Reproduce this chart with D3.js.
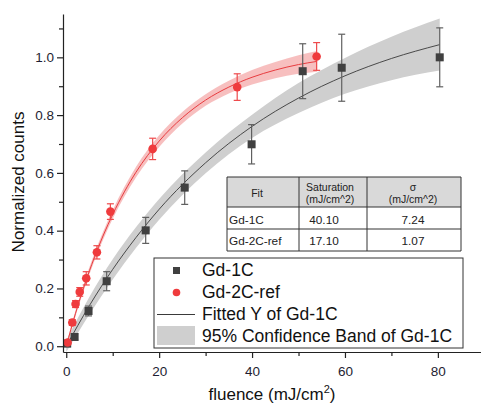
<!DOCTYPE html>
<html>
<head>
<meta charset="utf-8">
<script src="https://cdn.jsdelivr.net/npm/d3@7"></script>
<style>
  body { margin: 0; background: #fff; }
  text { font-family: "Liberation Sans", Arial, sans-serif; }
</style>
</head>
<body>
<div class="chart"></div>
<script>
//Width and height
var width = 481;
var height = 407;

//Measured points
var gd1cX = [0.2, 1.8, 4.8, 8.7, 17.1, 25.5, 39.9, 50.9, 59.3, 80.4];
var gd1cY = [0.009, 0.032, 0.122, 0.225, 0.401, 0.549, 0.699, 0.952, 0.964, 1.0];
var gd1cErr = [0.01, 0.01, 0.017, 0.033, 0.045, 0.058, 0.068, 0.095, 0.116, 0.102];

var gd2cX = [0.3, 1.3, 2.0, 2.9, 4.3, 6.6, 9.5, 18.6, 36.8, 53.9];
var gd2cY = [0.013, 0.082, 0.146, 0.188, 0.235, 0.325, 0.466, 0.683, 0.897, 1.003];
var gd2cErr = [0.008, 0.01, 0.012, 0.015, 0.023, 0.023, 0.027, 0.037, 0.046, 0.048];

//Fitted curves and 95% bands
var fit1X = [0, 5, 10, 15, 20, 30, 40, 50, 60, 70, 80.4];
var fit1Y = [0, 0.141, 0.266, 0.376, 0.474, 0.635, 0.761, 0.859, 0.936, 0.996, 1.044];
var fit1Lo = [-0.02, 0.111, 0.231, 0.340, 0.438, 0.599, 0.721, 0.807, 0.874, 0.921, 0.954];
var fit1Hi = [0.02, 0.171, 0.301, 0.412, 0.510, 0.671, 0.801, 0.911, 0.998, 1.071, 1.134];

var fit2X = [0, 2, 4, 6, 8, 10, 15, 20, 25, 30, 35, 40, 45, 50, 54];
var fit2Y = [0, 0.114, 0.215, 0.305, 0.385, 0.456, 0.602, 0.710, 0.791, 0.852, 0.897, 0.931, 0.956, 0.975, 0.986];
var fit2Lo = [-0.008, 0.104, 0.203, 0.292, 0.371, 0.441, 0.584, 0.690, 0.771, 0.832, 0.875, 0.906, 0.928, 0.943, 0.950];
var fit2Hi = [0.008, 0.124, 0.227, 0.318, 0.399, 0.471, 0.620, 0.730, 0.811, 0.872, 0.919, 0.956, 0.984, 1.007, 1.022];

//Ticks
var xMajor = [0, 20, 40, 60, 80];
var xMinor = [10, 30, 50, 70];
var yMajor = [0, 0.2, 0.4, 0.6, 0.8, 1.0];
var yMinor = [0.1, 0.3, 0.5, 0.7, 0.9, 1.1];

//Fit table
var tableFit = ["Gd-1C", "Gd-2C-ref"];
var tableSat = ["40.10", "17.10"];
var tableSigma = ["7.24", "1.07"];

var legendLabels = ["Gd-1C", "Gd-2C-ref", "Fitted Y of Gd-1C", "95% Confidence Band of Gd-1C"];

var svg = d3.select(".chart")
            .append("svg")
            .attr("width", width)
            .attr("height", height);

var x = d3.scaleLinear().domain([-0.7, 89.5]).range([63, 482]);
var y = d3.scaleLinear().domain([-0.02, 1.15]).range([352, 14]);

function zip(xs, ys) {
  return xs.map(function(v, i) { return [v, ys[i]]; });
}

var area = d3.area()
  .x(function(d) { return x(d[0]); })
  .y0(function(d) { return y(d[1]); })
  .y1(function(d) { return y(d[2]); })
  .curve(d3.curveMonotoneX);

var line = d3.line()
  .x(function(d) { return x(d[0]); })
  .y(function(d) { return y(d[1]); })
  .curve(d3.curveMonotoneX);

//Bands
svg.append("path")
   .datum(fit1X.map(function(v, i) { return [v, fit1Lo[i], fit1Hi[i]]; }))
   .attr("d", area)
   .attr("fill", "#cfcfcf");

svg.append("path")
   .datum(fit2X.map(function(v, i) { return [v, fit2Lo[i], fit2Hi[i]]; }))
   .attr("d", area)
   .attr("fill", "#f4a9aa")
   .attr("opacity", 0.75);

//Fit lines
svg.append("path")
   .datum(zip(fit1X, fit1Y))
   .attr("d", line)
   .attr("fill", "none")
   .attr("stroke", "#3a3a3a")
   .attr("stroke-width", 0.9);

svg.append("path")
   .datum(zip(fit2X, fit2Y))
   .attr("d", line)
   .attr("fill", "none")
   .attr("stroke", "#e83c3f")
   .attr("stroke-width", 1);

//Error bars
function errorBars(xs, ys, errs, color) {
  var g = svg.append("g").attr("stroke", color).attr("stroke-width", 1.2);
  xs.forEach(function(v, i) {
    var cx = x(v), top = y(ys[i] + errs[i]), bot = y(ys[i] - errs[i]);
    g.append("line").attr("x1", cx).attr("x2", cx).attr("y1", top).attr("y2", bot);
    g.append("line").attr("x1", cx - 3.5).attr("x2", cx + 3.5).attr("y1", top).attr("y2", top);
    g.append("line").attr("x1", cx - 3.5).attr("x2", cx + 3.5).attr("y1", bot).attr("y2", bot);
  });
}
errorBars(gd1cX, gd1cY, gd1cErr, "#606060");
errorBars(gd2cX, gd2cY, gd2cErr, "#ee4a4c");

//Points
svg.append("g")
   .selectAll("rect")
   .data(zip(gd1cX, gd1cY))
   .enter()
   .append("rect")
   .attr("x", function(d) { return x(d[0]) - 4; })
   .attr("y", function(d) { return y(d[1]) - 4; })
   .attr("width", 8)
   .attr("height", 8)
   .attr("fill", "#404040");

svg.append("g")
   .selectAll("circle")
   .data(zip(gd2cX, gd2cY))
   .enter()
   .append("circle")
   .attr("cx", function(d) { return x(d[0]); })
   .attr("cy", function(d) { return y(d[1]); })
   .attr("r", 4.3)
   .attr("fill", "#ef3b3d");

//Axes
var axisColor = "#222";
var xAxis = svg.append("g")
   .attr("transform", "translate(0," + 352 + ")")
   .call(d3.axisBottom(x).tickValues(xMajor).tickSize(6).tickSizeOuter(0).tickFormat(d3.format("d")));
xAxis.append("g")
   .call(d3.axisBottom(x).tickValues(xMinor).tickSize(4).tickSizeOuter(0).tickFormat(""))
   .select(".domain").remove();

var yAxis = svg.append("g")
   .attr("transform", "translate(" + 63 + ",0)")
   .call(d3.axisLeft(y).tickValues(yMajor).tickSize(6).tickSizeOuter(0).tickFormat(d3.format(".1f")));
yAxis.append("g")
   .call(d3.axisLeft(y).tickValues(yMinor).tickSize(4).tickSizeOuter(0).tickFormat(""))
   .select(".domain").remove();

svg.selectAll(".domain, .tick line").attr("stroke", axisColor).attr("stroke-width", 1.2);
svg.selectAll(".tick text")
   .attr("fill", "#1e1e32")
   .style("font-size", "13.5px")
   .style("font-family", "'Liberation Sans', Arial, sans-serif");
xAxis.selectAll(".tick text").attr("dy", "1.1em");

//Axis titles
svg.append("text")
   .attr("transform", "translate(24,182) rotate(-90)")
   .attr("text-anchor", "middle")
   .style("font-size", "17px")
   .attr("fill", "#111")
   .text("Normalized counts");

var xt = svg.append("text")
   .attr("x", 272)
   .attr("y", 400)
   .attr("text-anchor", "middle")
   .style("font-size", "17px")
   .attr("fill", "#111");
xt.append("tspan").text("fluence (mJ/cm");
xt.append("tspan").attr("dy", -7).style("font-size", "11px").text("2");
xt.append("tspan").attr("dy", 7).text(")");

//Fit table
var cols = [227, 299, 367, 461];
var rows = [177, 207, 229, 251];
var table = svg.append("g");
table.append("rect")
   .attr("x", cols[0]).attr("y", rows[0])
   .attr("width", cols[3] - cols[0]).attr("height", rows[1] - rows[0])
   .attr("fill", "#d9d9d9");
table.append("rect")
   .attr("x", cols[0]).attr("y", rows[1])
   .attr("width", cols[3] - cols[0]).attr("height", rows[3] - rows[1])
   .attr("fill", "#fff");
rows.forEach(function(r) {
  table.append("line").attr("x1", cols[0]).attr("x2", cols[3]).attr("y1", r).attr("y2", r)
       .attr("stroke", "#333").attr("stroke-width", 1);
});
cols.forEach(function(c) {
  table.append("line").attr("x1", c).attr("x2", c).attr("y1", rows[0]).attr("y2", rows[3])
       .attr("stroke", "#333").attr("stroke-width", 1);
});
function cell(tx, ty, s, size, anchor) {
  table.append("text").attr("x", tx).attr("y", ty)
       .attr("text-anchor", anchor || "middle")
       .style("font-size", size + "px")
       .attr("fill", "#222")
       .text(s);
}
cell(257, 197, "Fit", 10.5);
cell(330, 191, "Saturation", 10.5);
cell(330, 203, "(mJ/cm^2)", 10.5);
cell(413, 191, "σ", 10.5);
cell(413, 203, "(mJ/cm^2)", 10.5);
tableFit.forEach(function(f, i) {
  var by = [224, 245][i];
  cell(229, by, f, 11.8, "start");
  cell(324, by, tableSat[i], 11.8);
  cell(413, by, tableSigma[i], 11.8);
});

//Legend
var legend = svg.append("g");
legend.append("rect")
   .attr("x", 154).attr("y", 258)
   .attr("width", 309).attr("height", 90)
   .attr("fill", "#fff")
   .attr("stroke", "#333")
   .attr("stroke-width", 1);
legend.append("rect").attr("x", 173).attr("y", 267).attr("width", 7).attr("height", 7).attr("fill", "#404040");
legend.append("circle").attr("cx", 176.5).attr("cy", 292.5).attr("r", 3.8).attr("fill", "#ef3b3d");
legend.append("line").attr("x1", 157).attr("x2", 195).attr("y1", 314.5).attr("y2", 314.5)
      .attr("stroke", "#3a3a3a").attr("stroke-width", 1);
legend.append("rect").attr("x", 157).attr("y", 326).attr("width", 38).attr("height", 19).attr("fill", "#cfcfcf");
legend.selectAll("text.lg")
   .data(legendLabels)
   .enter()
   .append("text")
   .attr("class", "lg")
   .attr("x", 202)
   .attr("y", function(d, i) { return 276 + i * 22; })
   .style("font-size", "17.5px")
   .attr("fill", "#111")
   .text(function(d) { return d; });
</script>
</body>
</html>
